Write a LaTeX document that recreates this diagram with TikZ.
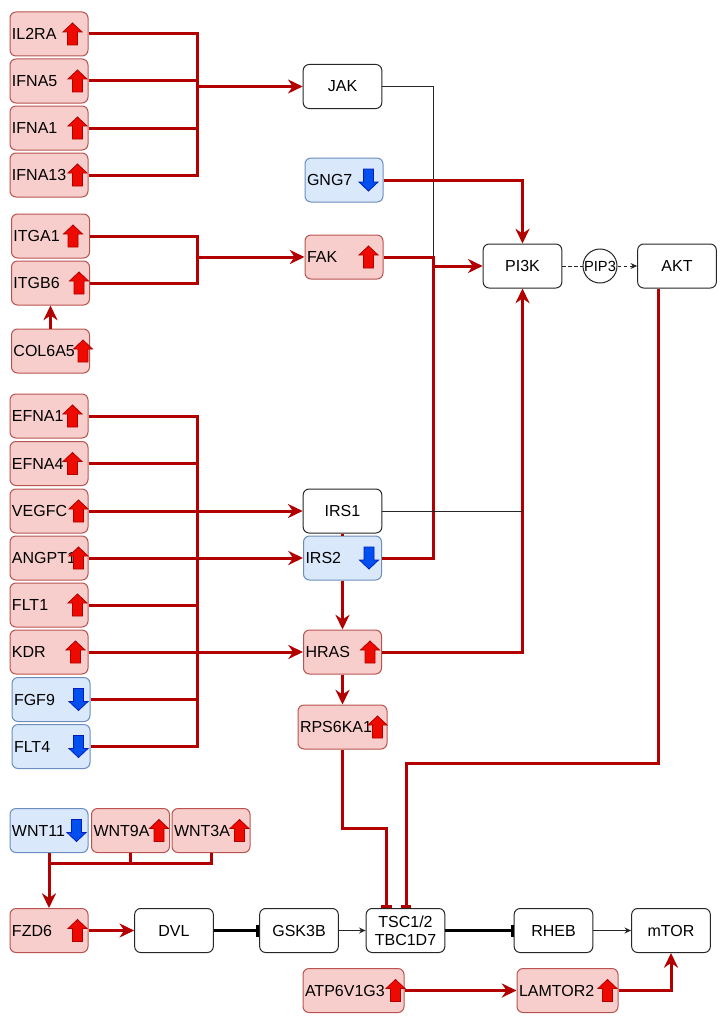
\documentclass[tikz,border=0pt]{standalone}
\usepackage{fontspec}
\setmainfont{Liberation Sans}
\usetikzlibrary{arrows.meta,calc}
\definecolor{pinkF}{HTML}{F8CECC}
\definecolor{pinkD}{HTML}{B85450}
\definecolor{blueF}{HTML}{DAE8FC}
\definecolor{blueD}{HTML}{6C8EBF}
\definecolor{lineR}{HTML}{B20000}
\definecolor{icR}{HTML}{EE0A00}
\definecolor{icRD}{HTML}{B20000}
\definecolor{icB}{HTML}{0050EF}
\definecolor{icBD}{HTML}{001DBC}
\newcommand\gf{\fontsize{12}{14}\selectfont}
\begin{document}
\begin{tikzpicture}[x=0.75pt,y=-0.75pt,
  gene/.style={rectangle, rounded corners=4.5pt, minimum height=33pt, text width=55.5pt,
    align=left, inner xsep=1.5pt, inner ysep=0pt, font=\gf, line width=0.75pt},
  upg/.style={gene, fill=pinkF, draw=pinkD},
  dng/.style={gene, fill=blueF, draw=blueD},
  wbox/.style={rectangle, rounded corners=4.5pt, minimum height=33pt, minimum width=59pt,
    align=center, inner sep=0pt, font=\gf, fill=white, draw=black!85, line width=0.75pt},
  rl/.style={draw=lineR, line width=2.25pt},
  ra/.style={rl, -{Stealth[length=11pt,width=10.5pt,inset=3.5pt]}},
  rb/.style={rl, -{Bar[width=8pt]}},
  kl/.style={draw=black!85, line width=0.75pt},
  ka/.style={kl, -{Stealth[length=5pt,width=4.5pt]}},
  kb/.style={draw=black, line width=2.2pt, -{Bar[width=9pt]}},
  upico/.pic={\filldraw[fill=icR, draw=icRD, line width=0.6pt]
    (-5,11) -- (-5,-2) -- (-9.5,-2) -- (0,-11) -- (9.5,-2) -- (5,-2) -- (5,11) -- cycle;},
  dnico/.pic={\filldraw[fill=icB, draw=icBD, line width=0.6pt]
    (-5,-11) -- (-5,2) -- (-9.5,2) -- (0,11) -- (9.5,2) -- (5,2) -- (5,-11) -- cycle;}
]
\useasboundingbox (0,0) rectangle (724,1024);
% ---------- nodes ----------
\node[upg] (IL2RA) at (49,34) {IL2RA};
\node[upg] (IFNA5) at (49,81) {IFNA5};
\node[upg] (IFNA1) at (49,128) {IFNA1};
\node[upg] (IFNA13) at (49,175) {IFNA13};
\node[wbox] (JAK) at (342.5,86.5) {JAK};
\node[dng] (GNG7) at (344,180) {GNG7};
\node[upg] (ITGA1) at (50.5,236) {ITGA1};
\node[upg] (ITGB6) at (50.5,283) {ITGB6};
\node[upg] (COL6A5) at (50.5,351) {COL6A5};
\node[upg] (FAK) at (344,257) {FAK};
\node[wbox] (PI3K) at (522.5,266) {PI3K};
\node[circle, draw=black!85, fill=white, line width=0.75pt, minimum size=25.5pt, inner sep=0pt,
  font=\fontsize{11}{13}\selectfont] (PIP3) at (600,266) {PIP3};
\node[wbox] (AKT) at (677,266) {AKT};
\node[upg] (EFNA1) at (49,416) {EFNA1};
\node[upg] (EFNA4) at (49,463.5) {EFNA4};
\node[upg] (VEGFC) at (49,511) {VEGFC};
\node[upg] (ANGPT1) at (49,558) {ANGPT1};
\node[upg] (FLT1) at (49,605) {FLT1};
\node[upg] (KDR) at (49,652) {KDR};
\node[dng] (FGF9) at (51,699.5) {FGF9};
\node[dng] (FLT4) at (51,746.5) {FLT4};
\node[wbox] (IRS1) at (342.5,511) {IRS1};
\node[dng] (IRS2) at (342.5,558) {IRS2};
\node[upg] (HRAS) at (342.5,652) {HRAS};
\node[upg, text width=63.75pt] (RPS6KA1) at (342.5,727) {RPS6KA1};
\node[dng] (WNT11) at (49,830.5) {WNT11};
\node[upg] (WNT9A) at (130.5,830.5) {WNT9A};
\node[upg] (WNT3A) at (211,830.5) {WNT3A};
\node[upg] (FZD6) at (49,930.5) {FZD6};
\node[wbox] (DVL) at (174,930.5) {DVL};
\node[wbox] (GSK3B) at (299,930.5) {GSK3B};
\node[wbox, font=\fontsize{12}{13.5}\selectfont] (TSC) at (405.5,930.5) {TSC1/2\\TBC1D7};
\node[wbox] (RHEB) at (553.5,930.5) {RHEB};
\node[wbox] (mTOR) at (671,930.5) {mTOR};
\node[upg, text width=72.75pt] (ATP6V1G3) at (353.5,990.5) {ATP6V1G3};
\node[upg, text width=72.75pt] (LAMTOR2) at (567.5,990.5) {LAMTOR2};
% ---------- group 1 ----------
\coordinate (j1) at (197,86.5);
\draw[rl] (IL2RA.east) -| (j1);
\draw[rl] (IFNA5.east) -| (j1);
\draw[rl] (IFNA1.east) -| (j1);
\draw[rl] (IFNA13.east) -| (j1);
\draw[ra] (j1) -- (JAK.west);
\coordinate (j2) at (433,257);
\draw[kl] (JAK.east) -| (j2);
% ---------- group 2 ----------
\coordinate (j5) at (197,257);
\draw[rl] (ITGA1.east) -| (j5);
\draw[rl] (ITGB6.east) -| (j5);
\draw[ra] (j5) -- (FAK.west);
\draw[ra] (COL6A5.north) -- (ITGB6.south);
\coordinate (j3) at (433,266);
\draw[rl] (FAK.east) -| (j3);
\draw[rl] (IRS2.east) -| (j3);
\draw[ra] (j3) -- (PI3K.west);
\draw[ra] (GNG7.east) -| (PI3K.north);
\draw[ra] (HRAS.east) -| (PI3K.south);
\draw[kl] (IRS1.east) -- (IRS1.east -| PI3K.south);
\draw[kl, dash pattern=on 2.5pt off 2pt] (PI3K.east) -- (PIP3.west);
\draw[ka, dash pattern=on 2.5pt off 2pt] (PIP3.east) -- (AKT.west);
% ---------- group 3 ----------
\coordinate (j6) at (197,511);
\coordinate (j7) at (197,652);
\draw[rl] (EFNA1.east) -| (j6);
\draw[rl] (EFNA4.east) -| (j6);
\draw[rl] (j6) -- (j7);
\draw[rl] (FLT1.east) -| (j7);
\draw[rl] (FGF9.east) -| (j7);
\draw[rl] (FLT4.east) -| (j7);
\draw[ra] (VEGFC.east) -- (IRS1.west);
\draw[ra] (ANGPT1.east) -- (IRS2.west);
\draw[ra] (KDR.east) -- (HRAS.west);
\draw[rl] (IRS1.south) -- (IRS2.north);
\draw[ra] (IRS2.south) -- (HRAS.north);
\draw[ra] (HRAS.south) -- (RPS6KA1.north);
% ---------- inhibitions into TSC ----------
\coordinate (akto) at ($(AKT.south)+(-19,0)$);
\coordinate (tin1) at ($(TSC.north)+(-19,0)$);
\coordinate (tin2) at ($(TSC.north)+(0.5,0)$);
\draw[rb] (akto) |- ($(tin2)+(0,-145)$) -- (tin2);
\draw[rb] (RPS6KA1.south) |- ($(tin1)+(0,-80)$) -- (tin1);
% ---------- wnt ----------
\coordinate (w) at (49,863);
\draw[rl] (WNT9A.south) |- (w);
\draw[rl] (WNT3A.south) |- (w);
\draw[ra] (WNT11.south) -- (FZD6.north);
% ---------- bottom row ----------
\draw[ra] (FZD6.east) -- (DVL.west);
\draw[kb] (DVL.east) -- (GSK3B.west);
\draw[ka] (GSK3B.east) -- (TSC.west);
\draw[kb] (TSC.east) -- (RHEB.west);
\draw[ka] (RHEB.east) -- (mTOR.west);
\draw[ra] (ATP6V1G3.east) -- (LAMTOR2.west);
\draw[ra] (LAMTOR2.east) -| (mTOR.south);
% ---------- icons ----------
\pic at ($(IL2RA.east)+(-16,0)$) {upico};
\pic at ($(IFNA5.east)+(-11,0)$) {upico};
\pic at ($(IFNA1.east)+(-11,0)$) {upico};
\pic at ($(IFNA13.east)+(-11,0)$) {upico};
\pic at ($(GNG7.east)+(-15,0)$) {dnico};
\pic at ($(ITGA1.east)+(-17,0)$) {upico};
\pic at ($(ITGB6.east)+(-11,0)$) {upico};
\pic at ($(COL6A5.east)+(-7,0)$) {upico};
\pic at ($(FAK.east)+(-15,0)$) {upico};
\pic at ($(EFNA1.east)+(-16,0)$) {upico};
\pic at ($(EFNA4.east)+(-16,0)$) {upico};
\pic at ($(VEGFC.east)+(-10,0)$) {upico};
\pic at ($(ANGPT1.east)+(-10,0)$) {upico};
\pic at ($(FLT1.east)+(-11,0)$) {upico};
\pic at ($(KDR.east)+(-13,0)$) {upico};
\pic at ($(FGF9.east)+(-12,0)$) {dnico};
\pic at ($(FLT4.east)+(-12,0)$) {dnico};
\pic at ($(IRS2.east)+(-13,0)$) {dnico};
\pic at ($(HRAS.east)+(-12,0)$) {upico};
\pic at ($(RPS6KA1.east)+(-10,0)$) {upico};
\pic at ($(WNT11.east)+(-12,0)$) {dnico};
\pic at ($(WNT9A.east)+(-11,0)$) {upico};
\pic at ($(WNT3A.east)+(-11,0)$) {upico};
\pic at ($(FZD6.east)+(-11,0)$) {upico};
\pic at ($(ATP6V1G3.east)+(-9,0)$) {upico};
\pic at ($(LAMTOR2.east)+(-11,0)$) {upico};
\end{tikzpicture}
\end{document}
